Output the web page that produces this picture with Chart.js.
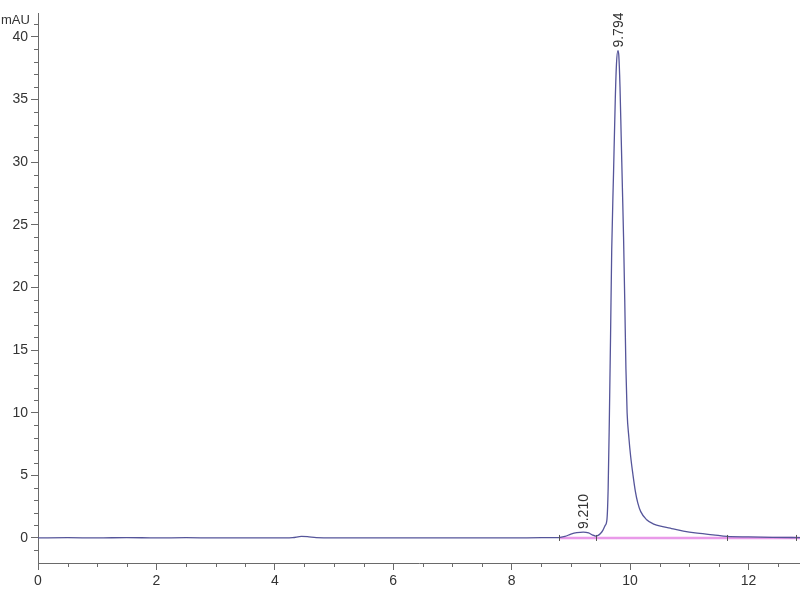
<!DOCTYPE html>
<html><head><meta charset="utf-8">
<script src="https://cdn.jsdelivr.net/npm/chart.js@4"></script>
<style>html,body{margin:0;padding:0;background:#fff}#wrap{width:800px;height:600px}</style>
</head><body><div id="wrap"><canvas id="c" width="800" height="600"></canvas></div>
<script>
const times = [0, 0.5, 1.0, 1.5, 2.0, 2.5, 3.0, 3.5, 4.0, 4.3, 4.45, 4.55, 4.7, 5.0, 5.5, 6.0, 6.5, 7.0, 7.5, 8.0, 8.5, 8.8, 8.9, 9.0, 9.1, 9.21, 9.3, 9.36, 9.42, 9.46, 9.5, 9.54, 9.58, 9.61, 9.63, 9.65, 9.67, 9.69, 9.72, 9.75, 9.77, 9.794, 9.81, 9.83, 9.85, 9.87, 9.89, 9.91, 9.93, 9.95, 9.98, 10.01, 10.05, 10.09, 10.13, 10.18, 10.28, 10.4, 10.55, 10.7, 10.9, 11.1, 11.4, 11.64, 12.0, 12.4, 12.87];
const signal = [0, 0.02, 0, 0.03, 0, 0.02, 0, 0.01, 0, 0.03, 0.12, 0.1, 0.02, 0, 0.01, 0, 0.01, 0, 0.01, 0, 0.02, 0.03, 0.12, 0.3, 0.42, 0.47, 0.4, 0.25, 0.15, 0.2, 0.35, 0.6, 1.0, 1.5, 4, 9.5, 16, 23, 29, 35, 37.8, 38.9, 38.5, 36, 32, 28, 24, 19, 13.5, 10, 8, 6.5, 5, 3.7, 2.8, 2.1, 1.45, 1.1, 0.9, 0.75, 0.55, 0.4, 0.25, 0.12, 0.08, 0.05, 0.03];
const baselineTimes = [8.8, 12.87];
const baselineValues = [0, 0];
const peakTimes = [9.210, 9.794];
const peakHeights = [0.47, 38.9];
const peakLabels = ['9.210', '9.794'];
const markerTimes = [8.8, 9.42, 11.64, 12.8];
const xTickValues = [0, 2, 4, 6, 8, 10, 12];
const yTickValues = [0, 5, 10, 15, 20, 25, 30, 35, 40];
const yUnit = 'mAU';

const FONT = '"Liberation Sans", Arial, sans-serif';
const AXIS = '#6a6a6a';

const annot = {
  id: 'annot',
  afterDraw(chart) {
    const ctx = chart.ctx, x = chart.scales.x, y = chart.scales.y;
    const ax = x.left, ay = y.bottom;
    ctx.save();
    ctx.strokeStyle = AXIS; ctx.lineWidth = 1;
    ctx.beginPath();
    for (let v = -1; v <= 41; v++) {
      if (v % 5 === 0) continue;
      const py = Math.round(y.getPixelForValue(v)) + 0.5;
      ctx.moveTo(ax - 4, py); ctx.lineTo(ax, py);
    }
    for (let v = 0.5; v <= 12.5; v += 0.5) {
      if (Math.abs(v % 2) < 1e-6) continue;
      const px = Math.round(x.getPixelForValue(v)) + 0.5;
      ctx.moveTo(px, ay); ctx.lineTo(px, ay + 4);
    }
    ctx.stroke();
    ctx.strokeStyle = '#555';
    ctx.beginPath();
    markerTimes.forEach(t => {
      const px = Math.round(x.getPixelForValue(t)) + 0.5;
      const py = y.getPixelForValue(0);
      ctx.moveTo(px, py - 3); ctx.lineTo(px, py + 3);
    });
    ctx.stroke();
    ctx.fillStyle = '#333';
    ctx.font = '14px ' + FONT;
    ctx.textAlign = 'left'; ctx.textBaseline = 'middle';
    peakTimes.forEach((t, i) => {
      const px = x.getPixelForValue(t) + 1;
      const py = y.getPixelForValue(peakHeights[i]) - 3;
      ctx.save(); ctx.translate(px, py); ctx.rotate(-Math.PI / 2);
      ctx.fillText(peakLabels[i], 0, 0); ctx.restore();
    });
    ctx.font = '13px ' + FONT; ctx.textAlign = 'left'; ctx.textBaseline = 'alphabetic';
    ctx.fillText(yUnit, 1, 24);
    ctx.restore();
  }
};

new Chart(document.getElementById('c'), {
  type: 'line',
  data: {
    datasets: [
      {
        data: baselineTimes.map((t, i) => ({x: t, y: baselineValues[i]})),
        borderColor: 'rgba(225,120,225,0.75)', borderWidth: 2.5, pointRadius: 0, order: 2
      },
      {
        data: times.map((t, i) => ({x: t, y: signal[i]})),
        borderColor: '#55559a', borderWidth: 1.3, pointRadius: 0,
        cubicInterpolationMode: 'monotone', order: 1
      }
    ]
  },
  options: {
    responsive: false, animation: false, devicePixelRatio: 1,
    layout: {padding: {top: 13, right: 0, left: 0, bottom: 0}},
    plugins: {legend: {display: false}, tooltip: {enabled: false}},
    scales: {
      x: {
        type: 'linear', min: 0, max: 12.87,
        afterBuildTicks: s => { s.ticks = xTickValues.map(v => ({value: v})); },
        afterFit: s => { s.height = 37; },
        ticks: {color: '#333', font: {family: FONT, size: 14}, padding: 3, maxRotation: 0, autoSkip: false},
        grid: {drawOnChartArea: false, tickLength: 7, color: AXIS},
        border: {color: AXIS}
      },
      y: {
        type: 'linear', min: -2, max: 41.9,
        afterBuildTicks: s => { s.ticks = yTickValues.map(v => ({value: v})); },
        afterFit: s => { s.width = 38; },
        ticks: {color: '#333', font: {family: FONT, size: 14}, padding: 3, autoSkip: false},
        grid: {drawOnChartArea: false, tickLength: 7, color: AXIS},
        border: {color: AXIS}
      }
    }
  },
  plugins: [annot]
});
</script>
</body></html>
